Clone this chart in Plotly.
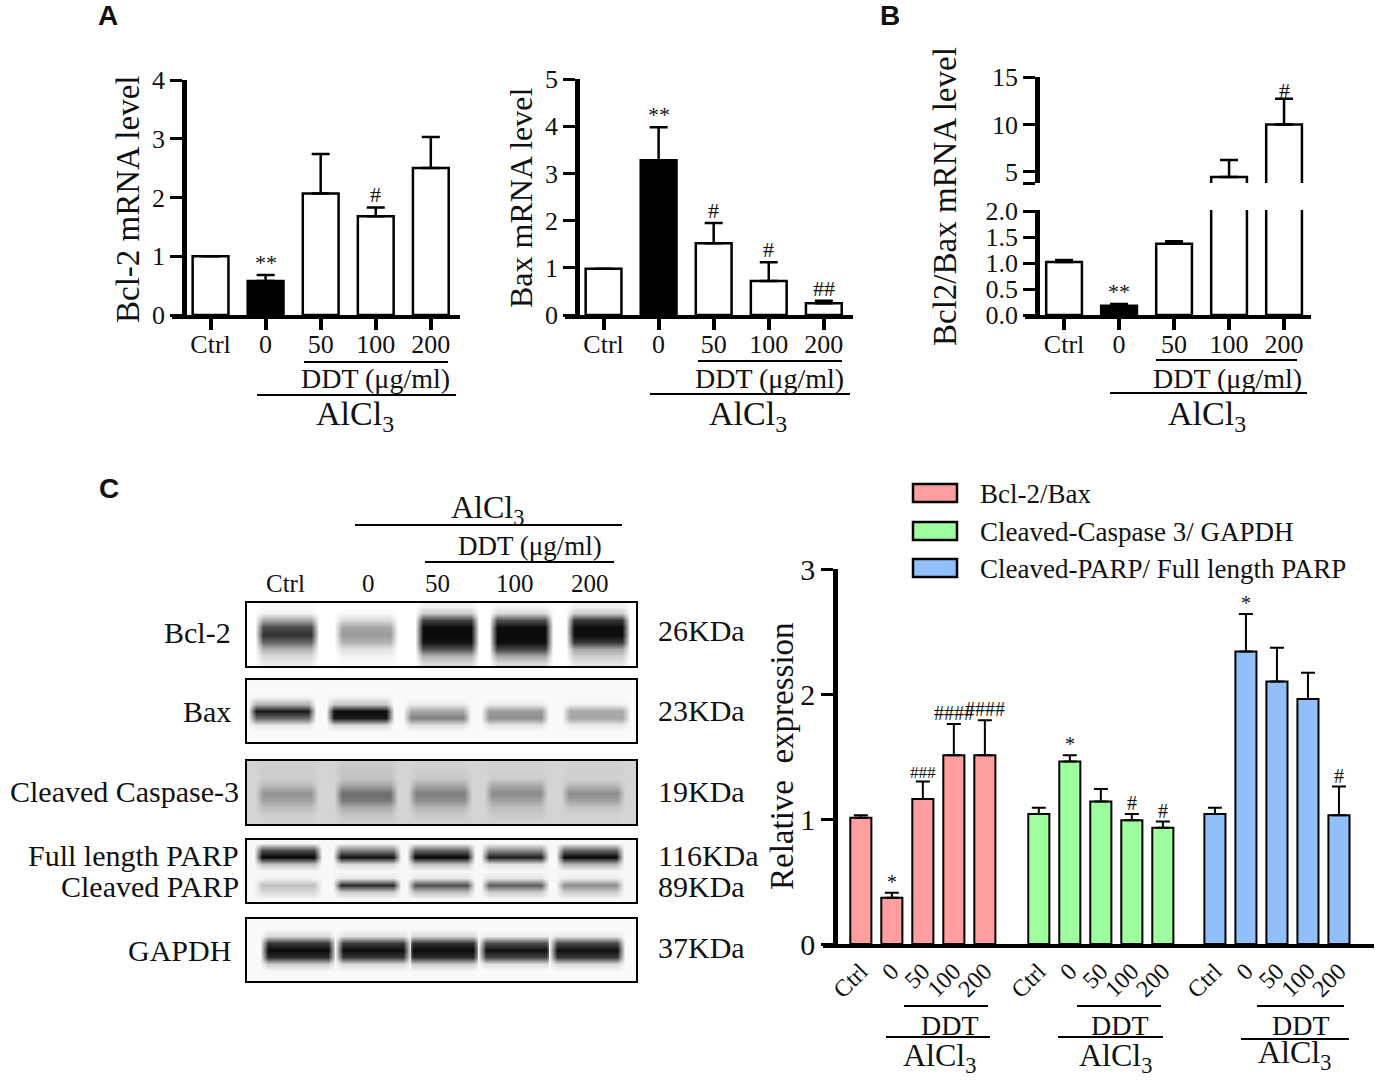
import plotly.graph_objects as go

W, H = 1383, 1085
SERIF = "Liberation Serif"
INK = "#111111"

DOSES = ["Ctrl", "0", "50", "100", "200"]

# panel A
BCL2_VALUES = [1.0, 0.58, 2.07, 1.68, 2.5]
BCL2_ERRORS = [0, 0.1, 0.67, 0.15, 0.53]
BCL2_MARKS = ["", "**", "", "#", ""]
BAX_VALUES = [0.98, 3.28, 1.52, 0.72, 0.25]
BAX_ERRORS = [0, 0.7, 0.43, 0.4, 0.05]
BAX_MARKS = ["", "**", "#", "#", "##"]

# panel B
RATIO_VALUES = [1.02, 0.18, 1.37, 4.47, 10.0]
RATIO_ERRORS = [0.04, 0.03, 0.05, 1.8, 2.7]
RATIO_MARKS_LOW = ["", "**", "", "", ""]
RATIO_MARKS_HIGH = ["", "", "", "", "#"]

# panel C chart
SERIES_NAMES = ["Bcl-2/Bax", "Cleaved-Caspase 3/ GAPDH", "Cleaved-PARP/ Full length PARP"]
SERIES_COLORS = ["#FF9E9E", "#9EFF9E", "#90BFFA"]
REL_VALUES = [
    [1.01, 0.37, 1.16, 1.51, 1.51],
    [1.04, 1.46, 1.14, 0.99, 0.93],
    [1.04, 2.34, 2.10, 1.96, 1.03],
]
REL_ERRORS = [
    [0.02, 0.04, 0.14, 0.25, 0.28],
    [0.05, 0.05, 0.10, 0.05, 0.05],
    [0.05, 0.30, 0.27, 0.21, 0.23],
]
REL_MARKS = [
    ["", "*", "###", "####", "####"],
    ["", "*", "", "#", "#"],
    ["", "*", "", "", "#"],
]

# blots: darkness by lane, top to bottom of the membrane strip
BCL2_BLOT = [
    [0.02, 0.05, 0.35, 0.72, 0.82, 0.62, 0.3, 0.15, 0.08],
    [0.0, 0.02, 0.15, 0.35, 0.4, 0.3, 0.12, 0.05, 0.02],
    [0.05, 0.2, 0.75, 0.97, 0.98, 0.95, 0.7, 0.3, 0.15],
    [0.03, 0.15, 0.7, 0.97, 0.98, 0.97, 0.75, 0.35, 0.15],
    [0.05, 0.2, 0.8, 0.97, 0.97, 0.8, 0.35, 0.2, 0.1],
]
BAX_BLOT = [
    [0.02, 0.02, 0.05, 0.3, 0.92, 0.6, 0.08, 0.02, 0.02],
    [0.02, 0.02, 0.05, 0.22, 0.97, 0.92, 0.15, 0.02, 0.02],
    [0.02, 0.02, 0.02, 0.08, 0.35, 0.5, 0.12, 0.02, 0.02],
    [0.02, 0.02, 0.02, 0.08, 0.4, 0.45, 0.1, 0.02, 0.02],
    [0.02, 0.02, 0.02, 0.05, 0.35, 0.35, 0.08, 0.02, 0.02],
]
CASPASE_BLOT = [
    [0.19, 0.21, 0.2, 0.27, 0.42, 0.38, 0.27, 0.2, 0.18],
    [0.21, 0.24, 0.24, 0.36, 0.58, 0.54, 0.34, 0.24, 0.2],
    [0.18, 0.2, 0.22, 0.34, 0.52, 0.46, 0.3, 0.22, 0.18],
    [0.18, 0.18, 0.2, 0.34, 0.47, 0.38, 0.26, 0.22, 0.18],
    [0.18, 0.2, 0.18, 0.28, 0.46, 0.38, 0.24, 0.18, 0.18],
]
PARP_BLOT = [
    [0.03, 0.7, 1.0, 0.25, 0.03, 0.05, 0.25, 0.15, 0.03],
    [0.03, 0.5, 0.95, 0.15, 0.03, 0.1, 0.85, 0.2, 0.03],
    [0.03, 0.6, 1.0, 0.25, 0.03, 0.1, 0.7, 0.25, 0.03],
    [0.03, 0.45, 0.9, 0.12, 0.03, 0.1, 0.65, 0.2, 0.03],
    [0.03, 0.6, 1.0, 0.3, 0.03, 0.07, 0.45, 0.2, 0.03],
]
GAPDH_BLOT = [
    [0.02, 0.03, 0.15, 0.8, 0.98, 0.85, 0.2, 0.03, 0.02],
    [0.02, 0.03, 0.12, 0.78, 0.97, 0.8, 0.15, 0.03, 0.02],
    [0.02, 0.03, 0.15, 0.82, 0.98, 0.85, 0.2, 0.03, 0.02],
    [0.02, 0.02, 0.08, 0.7, 0.96, 0.75, 0.12, 0.02, 0.02],
    [0.02, 0.02, 0.1, 0.72, 0.96, 0.8, 0.15, 0.02, 0.02],
]
BLOT_NAMES = ["Bcl-2", "Bax", "Cleaved Caspase-3", "PARP", "GAPDH"]
BLOT_SIZES = ["26KDa", "23KDa", "19KDa", "116KDa", "37KDa"]


def fx(px):
    return px / W


def fy(py):
    return 1 - py / H


fig = go.Figure()
shapes = []
annotations = []


def add_text(x, y, text, size=26, anchor="center", family=SERIF, angle=0, weight=None):
    annotations.append(dict(
        x=fx(x), y=fy(y), xref="paper", yref="paper", text=text, showarrow=False,
        xanchor=anchor, yanchor="middle", textangle=angle,
        font=dict(family=family, size=size, color=INK, weight=weight),
    ))


def add_rule(x0, x1, y, width=2):
    shapes.append(dict(type="line", xref="paper", yref="paper", x0=fx(x0), x1=fx(x1),
                       y0=fy(y), y1=fy(y), line=dict(color="black", width=width)))


def add_marks(marks, xs, values, errors, xname, yname, size=22, yshift=0):
    for mark, x, v, e in zip(marks, xs, values, errors):
        if mark:
            annotations.append(dict(
                x=x, y=v + e, xref=xname, yref=yname, text=mark, showarrow=False,
                yanchor="bottom", yshift=yshift,
                font=dict(family=SERIF, size=17 if mark == "###" else size, color=INK),
            ))


def bar_trace(xs, values, errors, colors, xname, yname, name, lw=2.5, cap=9, width=0.65):
    return go.Bar(
        x=xs, y=values, width=width, name=name, xaxis=xname, yaxis=yname, showlegend=False,
        marker=dict(color=colors, line=dict(color="black", width=lw)),
        error_y=dict(type="data", symmetric=False, array=errors,
                     arrayminus=[0] * len(errors), color="black", thickness=lw, width=cap),
    )


def x_axis(left, right, anchor, x_range, **kw):
    base = dict(
        domain=[fx(left), fx(right)], anchor=anchor, range=x_range, showgrid=False, zeroline=False,
        showline=True, linecolor="black", linewidth=3.5, ticks="outside", ticklen=11,
        tickwidth=3.5, tickcolor="black", ticklabelstandoff=-8,
        tickfont=dict(family=SERIF, size=26, color=INK),
    )
    base.update(kw)
    return base


def y_axis(top, bottom, pos, y_range, **kw):
    base = dict(
        domain=[fy(bottom), fy(top)], anchor="free", position=fx(pos), range=y_range,
        showgrid=False, zeroline=False, showline=True, linecolor="black", linewidth=4.5,
        ticks="outside", ticklen=12, tickwidth=3, tickcolor="black",
        tickfont=dict(family=SERIF, size=26, color=INK),
    )
    base.update(kw)
    return base


layout = {}
DOSE_INDEX = list(range(len(DOSES)))

# panel A, left
fig.add_trace(bar_trace(DOSES, BCL2_VALUES, BCL2_ERRORS,
                        ["white", "black", "white", "white", "white"], "x", "y", "Bcl-2"))
layout["xaxis"] = x_axis(172, 460, "y", [-0.70, 4.53])
layout["yaxis"] = y_axis(80, 315, 184, [0, 4], tickvals=[0, 1, 2, 3, 4])
add_marks(BCL2_MARKS, DOSE_INDEX, BCL2_VALUES, BCL2_ERRORS, "x", "y", yshift=-2)
add_text(128, 200, "Bcl-2 mRNA level", 33, angle=-90)

# panel A, right
fig.add_trace(bar_trace(DOSES, BAX_VALUES, BAX_ERRORS,
                        ["white", "black", "white", "white", "white"], "x2", "y2", "Bax"))
layout["xaxis2"] = x_axis(565, 853, "y2", [-0.70, 4.53])
layout["yaxis2"] = y_axis(79, 315, 577, [0, 5], tickvals=[0, 1, 2, 3, 4, 5])
add_marks(BAX_MARKS, DOSE_INDEX, BAX_VALUES, BAX_ERRORS, "x2", "y2", yshift=-2)
add_text(521, 198, "Bax mRNA level", 32, angle=-90)

# panel B: broken axis, same bars on both halves
for xname, yname in [("x3", "y3"), ("x4", "y4")]:
    fig.add_trace(bar_trace(DOSES, RATIO_VALUES, RATIO_ERRORS,
                            ["white", "black", "white", "white", "white"], xname, yname, "Bcl2/Bax"))
layout["xaxis3"] = x_axis(1025, 1311, "y3", [-0.71, 4.49])
layout["yaxis3"] = y_axis(210, 315, 1037, [0, 2.02], tickvals=[0, 0.5, 1, 1.5, 2],
                          tickformat=".1f")
layout["xaxis4"] = x_axis(1025, 1311, "y4", [-0.71, 4.49], visible=False)
layout["yaxis4"] = y_axis(77, 183, 1037, [3.84, 15], tickvals=[3.84, 5, 10, 15],
                          ticktext=["", "5", "10", "15"])
add_marks(RATIO_MARKS_LOW, DOSE_INDEX, RATIO_VALUES, RATIO_ERRORS, "x3", "y3", yshift=-2)
add_marks(RATIO_MARKS_HIGH, DOSE_INDEX, RATIO_VALUES, RATIO_ERRORS, "x4", "y4", yshift=-6)
add_text(945, 197, "Bcl2/Bax mRNA level", 33, angle=-90)

# dose brackets under A and B
for x_a, x_b, x_c, x_d, x_ddt, x_al, ddt_y in [
    (304, 448, 257, 456, 375, 355, 362),
    (698, 842, 650, 850, 769, 748, 361),
    (1156, 1297, 1110, 1307, 1227, 1207, 360),
]:
    add_rule(x_a, x_b, ddt_y)
    add_rule(x_c, x_d, ddt_y + 33)
    add_text(x_ddt, 378, "DDT (μg/ml)", 28)
    add_text(x_al, 416, "AlCl<sub>3</sub>", 34)

# panel C chart
GROUP_STARTS = [0, 5.74, 11.42]
rel_ticks = []
rel_labels = []
for g, name in enumerate(SERIES_NAMES):
    xs = [GROUP_STARTS[g] + i for i in range(len(DOSES))]
    rel_ticks += xs
    rel_labels += DOSES
    fig.add_trace(bar_trace(xs, REL_VALUES[g], REL_ERRORS[g], SERIES_COLORS[g], "x5", "y5", name,
                            lw=2, cap=7, width=0.68))
    add_marks(REL_MARKS[g], xs, REL_VALUES[g], REL_ERRORS[g], "x5", "y5", size=20, yshift=-2)
layout["xaxis5"] = x_axis(823, 1374, "y5", [-1.22, 16.55], tickvals=rel_ticks, ticktext=rel_labels,
                          ticks="", tickangle=-45, ticklabelstandoff=0,
                          tickfont=dict(family=SERIF, size=24, color=INK))
layout["yaxis5"] = y_axis(569, 944, 835, [0, 3], tickvals=[0, 1, 2, 3],
                          tickfont=dict(family=SERIF, size=30, color=INK))
add_text(782, 756, "Relative  expression", 33, angle=-90)

for y, name, color in zip([493, 531, 568], SERIES_NAMES, SERIES_COLORS):
    shapes.append(dict(type="rect", xref="paper", yref="paper", x0=fx(913), x1=fx(957),
                       y0=fy(y - 9), y1=fy(y + 9), fillcolor=color,
                       line=dict(color="black", width=2.5)))
    add_text(978, y + 1, name, 27, anchor="left")

for x_a, x_b, x_c, x_d, x_ddt, x_al, low_y, al_y in [
    (904, 988, 886, 990, 950, 940, 1037, 1057),
    (1077, 1161, 1058, 1163, 1120, 1115, 1037, 1057),
    (1257, 1344, 1241, 1349, 1301, 1294, 1039, 1054),
]:
    add_rule(x_a, x_b, 1006)
    add_rule(x_c, x_d, low_y)
    add_text(x_ddt, 1025, "DDT", 28)
    add_text(x_al, al_y, "AlCl<sub>3</sub>", 32)

# western blots, one heatmap strip per box
BOX_LEFT, BOX_RIGHT = 246, 637
BOX_TOPS = [602, 679, 760, 839, 918]
BOX_BOTTOMS = [667, 743, 825, 903, 982]
LANES = [
    [287, 366, 447, 521, 598],
    [282, 360, 437, 515, 596],
    [287, 366, 440, 516, 593],
    [288, 367, 441, 515, 590],
    [298, 373, 443, 516, 587],
]
HALF_WIDTHS = [24, 26, 24, 26, 30]
BLOTS = [BCL2_BLOT, BAX_BLOT, CASPASE_BLOT, PARP_BLOT, GAPDH_BLOT]
BACKGROUNDS = [0.0, 0.02, 0.17, 0.03, 0.02]

for b, blot in enumerate(BLOTS):
    yname = f"y{6 + b}"
    columns = [BOX_LEFT]
    for lane in LANES[b]:
        columns += [lane - HALF_WIDTHS[b] - 8, lane - HALF_WIDTHS[b],
                    lane + HALF_WIDTHS[b], lane + HALF_WIDTHS[b] + 8]
    columns.append(BOX_RIGHT)
    rows = []
    for r in range(len(blot[0])):
        row = [BACKGROUNDS[b]]
        for lane_values in blot:
            row += [BACKGROUNDS[b], lane_values[r], lane_values[r], BACKGROUNDS[b]]
        row.append(BACKGROUNDS[b])
        rows.append(row)
    fig.add_trace(go.Heatmap(
        z=rows, x=columns, y=list(range(len(rows))), xaxis="x6", yaxis=yname,
        colorscale=[[0, "white"], [1, "#050505"]], zmin=0, zmax=1, zsmooth="best",
        showscale=False, name=BLOT_NAMES[b], hoverinfo="name",
    ))
    layout[f"yaxis{6 + b}"] = dict(domain=[fy(BOX_BOTTOMS[b]), fy(BOX_TOPS[b])], range=[8.5, -0.5],
                                   anchor="x6", visible=False)
    shapes.append(dict(type="rect", xref="paper", yref="paper", x0=fx(BOX_LEFT), x1=fx(BOX_RIGHT),
                       y0=fy(BOX_BOTTOMS[b]), y1=fy(BOX_TOPS[b]), line=dict(color="black", width=2)))
layout["xaxis6"] = dict(domain=[fx(BOX_LEFT), fx(BOX_RIGHT)], range=[BOX_LEFT, BOX_RIGHT],
                        anchor="y6", visible=False)

add_text(487, 510, "AlCl<sub>3</sub>", 32)
add_rule(355, 622, 525)
add_text(530, 546, "DDT (μg/ml)", 27)
add_rule(425, 614, 562)
for x, label in zip([285, 369, 437, 515, 590], DOSES):
    add_text(x, 583, label, 25)

add_text(233, 632, "Bcl-2", 30, anchor="right")
add_text(233, 711, "Bax", 30, anchor="right")
add_text(241, 791, "Cleaved Caspase-3", 30, anchor="right")
add_text(241, 855, "Full length PARP", 30, anchor="right")
add_text(241, 886, "Cleaved PARP", 30, anchor="right")
add_text(233, 950, "GAPDH", 30, anchor="right")
for y, label in zip([631, 710, 791, 855, 948], BLOT_SIZES):
    add_text(656, y, label, 30, anchor="left")
add_text(656, 886, "89KDa", 30, anchor="left")

# panel letters
add_text(108, 15, "A", 28, family="Liberation Sans", weight="bold")
add_text(890, 15, "B", 28, family="Liberation Sans", weight="bold")
add_text(109, 488, "C", 28, family="Liberation Sans", weight="bold")

fig.update_layout(
    width=W, height=H, margin=dict(l=0, r=0, t=0, b=0, autoexpand=False),
    paper_bgcolor="white", plot_bgcolor="rgba(0,0,0,0)",
    showlegend=False, barmode="overlay",
    shapes=shapes, annotations=annotations, **layout,
)

fig.write_html("out.html", config={"displayModeBar": False},
               post_script="document.body.style.margin='0';document.body.style.overflow='hidden';")
